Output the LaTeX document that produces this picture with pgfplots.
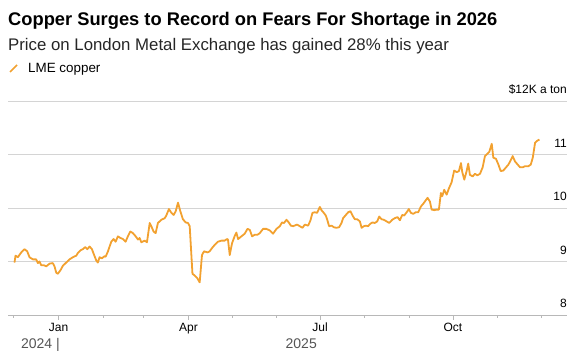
\documentclass[border=0pt]{standalone}
\usepackage{pgfplots}
\pgfplotsset{compat=1.18}
\usepackage{fontspec}
\setmainfont{Liberation Sans}
\definecolor{copper}{HTML}{F2A130}
\definecolor{gridc}{HTML}{D4D4D4}
\definecolor{axisc}{HTML}{B8B8B8}
\definecolor{yearc}{HTML}{555555}
\begin{document}
\begin{tikzpicture}[x=1pt,y=1pt]
\useasboundingbox (0,0) rectangle (584,358);
\node[anchor=base west, inner sep=0pt, font=\fontsize{18.3}{20}\selectfont\bfseries] at (8,332) {Copper Surges to Record on Fears For Shortage in 2026};
\node[anchor=base west, inner sep=0pt, font=\fontsize{16.8}{19}\selectfont, text=black!85] at (8,307) {Price on London Metal Exchange has gained 28\% this year};
\draw[copper, line width=1.5pt] (10,286) -- (17,293);
\node[anchor=base west, inner sep=0pt, font=\fontsize{13.4}{15}\selectfont] at (28,285) {LME copper};
\begin{axis}[
  at={(8pt,43pt)}, anchor=south west,
  scale only axis, width=559pt, height=214pt,
  xmin=-35, xmax=352, ymin=8, ymax=12,
  clip=false,
  separate axis lines,
  axis x line*=bottom, axis y line*=right,
  x axis line style={draw=axisc, line width=0.7pt, -},
  y axis line style={draw=none},
  ymajorgrids, major grid style={draw=gridc, line width=0.7pt},
  ytick={8,9,10,11,12}, yticklabels={8,9,10,11,{\$12K a ton}},
  ytick style={draw=none},
  yticklabel style={anchor=base east, font=\fontsize{12}{14}\selectfont, inner sep=0pt, xshift=-5pt, yshift=7pt},
  xtick={0,90,181,273}, xticklabels={Jan,Apr,Jul,Oct},
  minor xtick={-31,31,59,120,151,212,243,304,334},
  tick align=outside, major tick length=5pt, minor tick length=3pt,
  x tick style={draw=axisc, line width=0.7pt},
  xticklabel style={anchor=base, font=\fontsize{12}{14}\selectfont, inner sep=0pt, yshift=-12pt},
]
\addplot[copper, line width=1.8pt, line join=round] coordinates {
(-30.5,8.98) (-29.8,9.11) (-28.2,9.08) (-25.8,9.17) (-23.6,9.23) (-21.7,9.19) (-20.1,9.08) (-17.8,9.04) (-15.5,9.04) (-14.3,8.97) (-13.2,9.00) (-12.0,8.93) (-10.2,8.93) (-8.5,8.91) (-6.2,8.96) (-4.0,8.97) (-2.8,8.91) (-1.6,8.79) (-0.5,8.77) (1.4,8.84) (3.0,8.92) (5.3,8.98) (7.6,9.04) (9.9,9.08) (12.3,9.11) (13.4,9.16) (15.2,9.21) (16.8,9.23) (18.5,9.27) (19.9,9.23) (21.5,9.28) (23.1,9.23) (24.5,9.13) (26.1,9.02) (27.2,8.98) (28.4,9.08) (30.0,9.06) (31.9,9.10)
(32.6,9.09) (34.2,9.19) (36.5,9.37) (38.1,9.42) (39.5,9.37) (41.1,9.47) (42.8,9.44) (44.6,9.42) (46.4,9.37) (48.0,9.47) (49.7,9.56) (51.5,9.53) (53.4,9.47) (55.0,9.41) (56.1,9.44) (57.3,9.36) (59.6,9.39) (61.2,9.36) (63.1,9.72) (64.2,9.66) (65.8,9.56) (67.2,9.53) (68.8,9.72) (71.2,9.78) (73.5,9.81) (74.6,9.86) (76.4,9.98) (78.1,9.91) (79.7,9.87) (81.1,9.94) (82.7,10.10) (84.3,9.94) (86.1,9.79) (88.0,9.73) (89.6,9.72) (90.8,9.66) (92.7,8.77) (94.2,8.74) (96.0,8.69) (97.7,8.61)
(99.3,9.12) (100.7,9.19) (103.1,9.17) (104.6,9.19) (106.2,9.25) (108.1,9.31) (110.4,9.37) (112.8,9.39) (115.0,9.39) (116.6,9.42) (117.3,9.41) (118.5,9.12) (120.1,9.34) (122.0,9.48) (123.1,9.54) (124.3,9.42) (126.6,9.47) (128.9,9.52) (130.8,9.61) (132.4,9.59) (134.0,9.47) (135.8,9.50) (137.7,9.50) (139.3,9.53) (141.6,9.61) (143.9,9.61) (146.2,9.58) (148.5,9.52) (150.9,9.61) (153.2,9.66) (154.7,9.73) (156.1,9.72) (157.8,9.78) (159.4,9.73) (160.8,9.67) (162.4,9.66)
(165.1,9.69) (167.0,9.66) (168.9,9.63) (170.5,9.69) (172.8,9.67) (174.4,9.77) (175.8,9.91) (177.4,9.92) (179.0,9.91) (180.9,10.02) (182.0,9.96) (183.6,9.91) (185.0,9.86) (185.9,9.79) (187.3,9.66) (189.0,9.67) (190.6,9.64) (192.4,9.63) (194.2,9.64) (195.9,9.72) (197.0,9.81) (198.9,9.87) (200.5,9.92) (202.1,9.94) (203.5,9.86) (205.1,9.79) (206.7,9.79) (208.6,9.75) (209.8,9.63) (211.4,9.66) (212.8,9.67) (214.3,9.66) (216.0,9.71) (217.4,9.73) (219.0,9.72) (220.6,9.75) (222.0,9.84) (223.6,9.79) (225.2,9.78) (227.1,9.75) (228.9,9.72)
(231.0,9.78) (232.8,9.81) (234.7,9.83) (236.3,9.77) (237.9,9.87) (239.3,9.86) (241.0,9.92) (242.5,9.98) (243.9,9.91) (245.5,9.89) (247.2,9.92) (249.0,9.92) (250.9,10.03) (252.5,10.08) (254.1,10.14) (255.5,10.19) (257.1,10.12) (258.3,9.97) (260.1,9.96) (261.7,9.97) (263.3,9.97) (264.7,10.28) (265.6,10.22) (267.0,10.34) (268.7,10.25) (270.3,10.37) (272.1,10.48) (273.9,10.70) (275.6,10.67) (277.2,10.69) (278.6,10.84) (279.5,10.67) (280.9,10.53) (282.5,10.69) (283.6,10.83)
(284.8,10.62) (286.7,10.59) (288.3,10.64) (289.9,10.61) (291.8,10.64) (293.6,10.76) (295.2,10.97) (296.8,11.01) (298.2,11.05) (299.9,11.20) (301.0,10.94) (302.8,10.92) (304.4,10.82) (306.1,10.69) (307.9,10.70) (309.8,10.76) (311.4,10.81) (313.0,10.89) (314.4,10.97) (316.0,10.87) (317.6,10.82) (319.5,10.76) (321.3,10.76) (322.9,10.78) (325.2,10.78) (326.9,10.81) (328.3,10.94) (329.9,11.22) (331.0,11.25) (332.9,11.28)
};
\node[anchor=base east, inner sep=0pt, text=yearc, font=\fontsize{14}{16}\selectfont, yshift=-34pt] at (axis cs:1,8) {2024 |};
\node[anchor=base, inner sep=0pt, text=yearc, font=\fontsize{14}{16}\selectfont, yshift=-34pt] at (axis cs:168,8) {2025};
\end{axis}
\end{tikzpicture}
\end{document}
